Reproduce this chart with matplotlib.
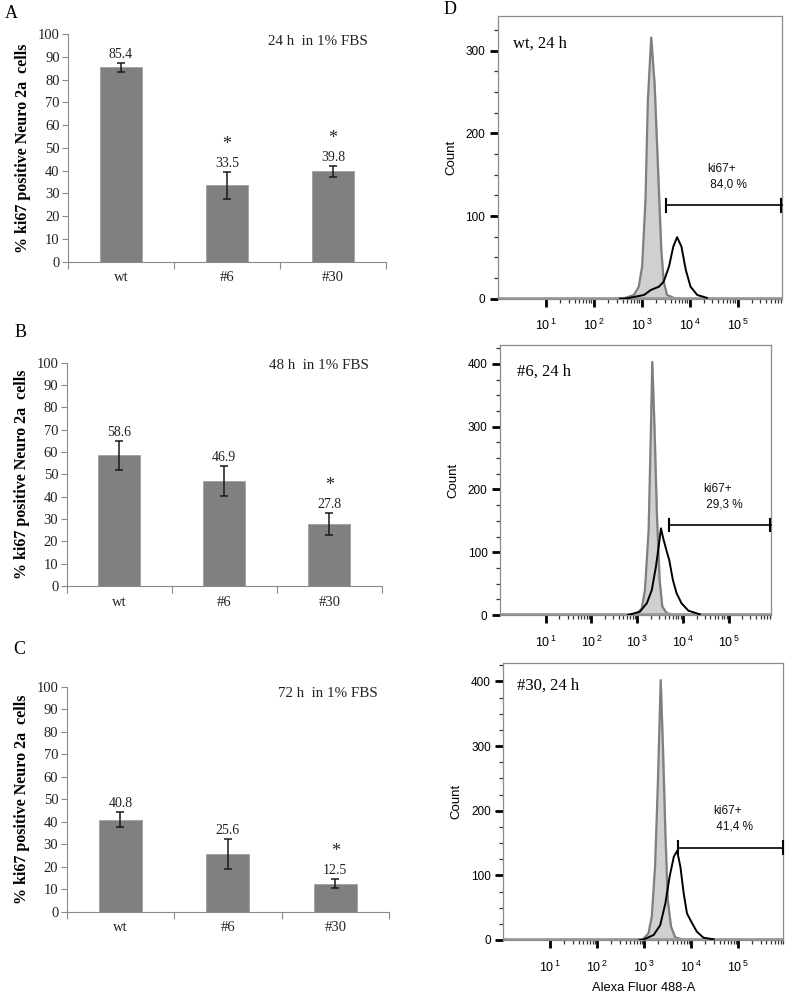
import numpy as np
import matplotlib
matplotlib.use("Agg")
import matplotlib.pyplot as plt
from matplotlib.ticker import FixedLocator, NullFormatter, FixedFormatter

plt.rcParams['mathtext.fontset'] = 'custom'
plt.rcParams['mathtext.rm'] = 'Liberation Sans'
plt.rcParams['mathtext.it'] = 'Liberation Sans'

SERIF = 'Liberation Serif'
SANS = 'Liberation Sans'

# ---------------- bar chart data ----------------
categories = ['wt', '#6', '#30']
titles_bar = ['24 h  in 1% FBS', '48 h  in 1% FBS', '72 h  in 1% FBS']
vals_24h = [85.4, 33.5, 39.8]
err_24h = [2.0, 5.9, 2.4]
star_24h = [False, True, True]
vals_48h = [58.6, 46.9, 27.8]
err_48h = [6.5, 6.8, 4.9]
star_48h = [False, False, True]
vals_72h = [40.8, 25.6, 12.5]
err_72h = [3.3, 6.8, 2.1]
star_72h = [False, False, True]
ylabel_bar = '% ki67 positive Neuro 2a  cells'

# ---------------- flow histogram data (log10 intensity, count) ----------------
flow_titles = ['wt, 24 h', '#6, 24 h', '#30, 24 h']
flow_pct = ['84,0 %', '29,3 %', '41,4 %']

wt_iso_logx = [2.50, 2.66, 2.84, 2.94, 3.01, 3.08, 3.13, 3.20, 3.27, 3.34, 3.41, 3.46, 3.53, 3.67, 3.80]
wt_iso_cnt = [0, 1, 4.5, 14.5, 38.7, 119, 240, 316, 260, 160, 59, 20.6, 4.5, 1, 0]
wt_ki_logx = [2.55, 2.70, 3.05, 3.19, 3.36, 3.46, 3.57, 3.66, 3.74, 3.83, 3.92, 4.02, 4.16, 4.36]
wt_ki_cnt = [0, 0.5, 4.5, 10.5, 14.5, 20.6, 38.7, 63, 74.5, 63, 35, 14.5, 4.5, 1]

c6_iso_logx = [2.85, 2.99, 3.10, 3.17, 3.25, 3.30, 3.33, 3.38, 3.43, 3.49, 3.55, 3.65, 3.79]
c6_iso_cnt = [0, 1.6, 10.6, 39.8, 135, 295, 403, 295, 162, 55.8, 13.3, 2.7, 0.5]
c6_ki_logx = [2.80, 2.88, 3.06, 3.21, 3.32, 3.41, 3.47, 3.52, 3.57, 3.64, 3.70, 3.78, 3.86, 3.97, 4.12, 4.30, 4.37]
c6_ki_cnt = [0, 1.6, 5.3, 18.6, 39.8, 77, 109, 138, 122, 103, 88, 56, 35, 18.6, 6.9, 2.7, 1]

c30_iso_logx = [2.85, 2.97, 3.09, 3.16, 3.23, 3.29, 3.35, 3.40, 3.45, 3.50, 3.57, 3.66, 3.84]
c30_iso_cnt = [0, 1, 10.3, 36, 113, 242, 402, 294, 165, 62, 20.6, 4, 0.5]
c30_ki_logx = [2.90, 2.99, 3.20, 3.34, 3.45, 3.54, 3.63, 3.70, 3.77, 3.84, 3.91, 4.02, 4.12, 4.26, 4.48]
c30_ki_cnt = [0, 1, 7.7, 23, 56.8, 98, 129, 138, 113, 72, 41, 25.8, 12.9, 3.6, 1]

gate_start_logx = [3.50, 3.70, 3.71]
gate_level = [113, 143, 143]
xlog_max = [5.92, 5.92, 5.96]
ymax_flow = [342, 430, 428]

W, H = 786, 999
fig = plt.figure(figsize=(W / 100, H / 100), dpi=100)


def fx(px):
    return px / W


def fy(py):
    return 1 - py / H


# -------- bar panels --------
bar_boxes = [(68, 386, 34, 261.7), (66.7, 382, 362.7, 586), (66.7, 389, 686.7, 911.7)]
bar_vals = [vals_24h, vals_48h, vals_72h]
bar_errs = [err_24h, err_48h, err_72h]
bar_stars = [star_24h, star_48h, star_72h]
title_pos = [(0.786, 0.966), (0.80, 0.986), (0.81, 0.97)]
panel_letters = [('A', 11, 13), ('B', 21, 333), ('C', 19, 650)]
axis_gray = '#8a8a8a'

for i in range(3):
    l, r, t, b = bar_boxes[i]
    ax = fig.add_axes([fx(l), fy(b), fx(r) - fx(l), fy(t) - fy(b)])
    x = np.arange(3)
    ax.bar(x, bar_vals[i], width=0.40, color='#808080', edgecolor='#a0a0a0', linewidth=0.6, zorder=2)
    ax.errorbar(x, bar_vals[i], yerr=bar_errs[i], fmt='none', ecolor='#1a1a1a',
                elinewidth=1.1, capsize=3.2, capthick=1.1, zorder=3)
    for j in range(3):
        top = bar_vals[i][j] + bar_errs[i][j]
        ax.annotate(f'{bar_vals[i][j]:.1f}', (x[j], top), xytext=(0, 1.5), textcoords='offset points',
                    ha='center', va='bottom', fontsize=10, family=SERIF, color='#222222')
        if bar_stars[i][j]:
            ax.annotate('*', (x[j], top), xytext=(0, 13.5), textcoords='offset points',
                        ha='center', va='bottom', fontsize=13, family=SERIF, color='#222222')
    ax.set_xlim(-0.5, 2.5)
    ax.set_ylim(0, 100)
    ax.set_yticks(np.arange(0, 101, 10))
    ax.set_xticks([-0.5, 0.5, 1.5, 2.5], minor=False)
    ax.set_xticklabels([])
    ax.set_xticks(x, minor=True)
    ax.set_xticklabels(categories, minor=True)
    ax.tick_params(axis='x', which='major', direction='out', length=5, color=axis_gray, width=0.8)
    ax.tick_params(axis='x', which='minor', length=0, pad=7, labelsize=10.5)
    ax.tick_params(axis='y', direction='out', length=4, color=axis_gray, width=0.8, labelsize=10.5, pad=2)
    for lab in ax.get_xticklabels(minor=True) + ax.get_yticklabels():
        lab.set_family(SERIF)
        lab.set_color('#222222')
    for s in ['top', 'right']:
        ax.spines[s].set_visible(False)
    for s in ['left', 'bottom']:
        ax.spines[s].set_color(axis_gray)
        ax.spines[s].set_linewidth(0.8)
    ax.set_ylabel(ylabel_bar, fontsize=11.5, family=SERIF, fontweight='bold', labelpad=5)
    ax.text(title_pos[i][0], title_pos[i][1], titles_bar[i], transform=ax.transAxes,
            ha='center', va='center', fontsize=10.8, family=SERIF, color='#222222')
    lt, lx, ly = panel_letters[i]
    fig.text(fx(lx), fy(ly), lt, ha='center', va='center', fontsize=13, family=SERIF)

# -------- flow panels --------
flow_boxes = [(497.7, 781.7, 16, 298.7), (500, 770.7, 345, 615), (503.3, 783.3, 663.3, 940)]
iso_x = [wt_iso_logx, c6_iso_logx, c30_iso_logx]
iso_y = [wt_iso_cnt, c6_iso_cnt, c30_iso_cnt]
ki_x = [wt_ki_logx, c6_ki_logx, c30_ki_logx]
ki_y = [wt_ki_cnt, c6_ki_cnt, c30_ki_cnt]
major_y = [[0, 100, 200, 300], [0, 100, 200, 300, 400], [0, 100, 200, 300, 400]]
gate_text_pos = [(4.36, 148), (4.44, 188), (4.46, 187)]
title_frac = [(0.053, 0.903), (0.062, 0.901), (0.049, 0.92)]
box_gray = '#8c8c8c'

for i in range(3):
    l, r, t, b = flow_boxes[i]
    ax = fig.add_axes([fx(l), fy(b), fx(r) - fx(l), fy(t) - fy(b)])
    ax.set_xscale('log')
    xmax = 10 ** xlog_max[i]
    ax.set_xlim(1, xmax)
    ax.set_ylim(0, ymax_flow[i])
    xi = np.power(10.0, iso_x[i])
    ax.fill_between(xi, iso_y[i], 0, color='#d0d0d0', zorder=1)
    ax.plot(xi, iso_y[i], color='#7f7f7f', lw=1.6, zorder=2)
    ax.axhline(1.0, color='#9a9a9a', lw=2.0, zorder=2)
    ax.plot(np.power(10.0, ki_x[i]), ki_y[i], color='black', lw=1.4, zorder=3)
    g0 = 10 ** gate_start_logx[i]
    gy = gate_level[i]
    ax.plot([g0, xmax], [gy, gy], color='black', lw=1.2, zorder=4, clip_on=False)
    dy = ymax_flow[i] * 0.022
    ax.plot([g0, g0], [gy - dy, gy + dy], color='black', lw=1.5, zorder=4)
    ax.plot([xmax * 0.985, xmax * 0.985], [gy - dy, gy + dy], color='black', lw=1.5, zorder=4, clip_on=False)
    tx, ty = gate_text_pos[i]
    ax.text(10 ** tx, ty, 'ki67+\n ' + flow_pct[i],
            ha='left', va='center', fontsize=8.5, family=SANS, linespacing=1.4, color='#111111')
    ax.text(title_frac[i][0], title_frac[i][1], flow_titles[i], transform=ax.transAxes, ha='left', va='center',
            fontsize=12, family=SERIF)
    # ticks
    ax.xaxis.set_major_locator(FixedLocator([1e1, 1e2, 1e3, 1e4, 1e5]))
    ax.xaxis.set_major_formatter(FixedFormatter([r'$\mathregular{10^{\,%d}}$' % k for k in range(1, 6)]))
    minors = [m * 10 ** d for d in range(1, 6) for m in range(2, 10) if m * 10 ** d < xmax]
    ax.xaxis.set_minor_locator(FixedLocator(minors))
    ax.xaxis.set_minor_formatter(NullFormatter())
    ax.yaxis.set_major_locator(FixedLocator(major_y[i]))
    ax.yaxis.set_minor_locator(FixedLocator(np.arange(25, ymax_flow[i], 25)))
    ax.tick_params(axis='x', which='major', direction='out', length=6, width=2, color='black',
                   labelsize=9, pad=8)
    ax.tick_params(axis='x', which='minor', direction='out', length=3, width=0.9, color='#333333')
    ax.tick_params(axis='y', which='major', direction='out', length=6, width=2, color='black',
                   labelsize=8.5, pad=3)
    ax.tick_params(axis='y', which='minor', direction='out', length=3, width=0.9, color='#333333')
    for lab in ax.get_xticklabels() + ax.get_yticklabels():
        lab.set_family(SANS)
    for s in ax.spines.values():
        s.set_color(box_gray)
        s.set_linewidth(0.9)
    ax.set_ylabel('Count', fontsize=9.5, family=SANS, labelpad=6)
    if i == 2:
        ax.set_xlabel('Alexa Fluor 488-A', fontsize=9.3, family=SANS, labelpad=5)

fig.text(fx(450), fy(10), 'D', ha='center', va='center', fontsize=13, family=SERIF)

fig.savefig('out.png', dpi=100, facecolor='white')
